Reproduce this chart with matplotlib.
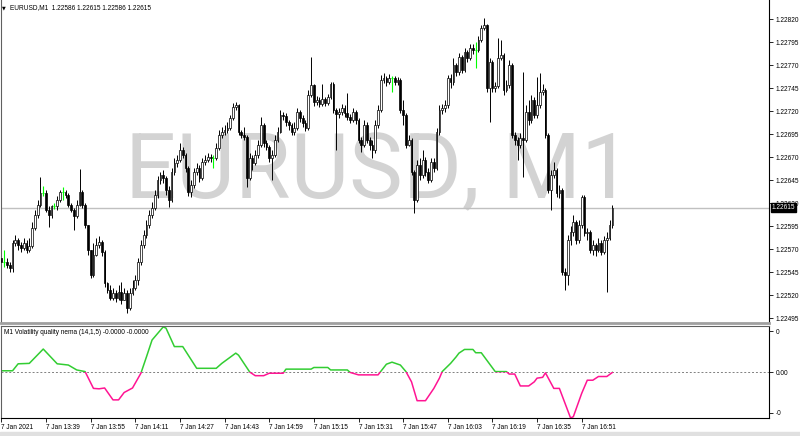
import numpy as np
import matplotlib
matplotlib.use('Agg')
import matplotlib.pyplot as plt
import matplotlib.patches as mpatches

plt.rcParams['font.family'] = ['Liberation Sans', 'DejaVu Sans']

# %% data (EURUSD M1, 7 Jan 2021)
symbol = 'EURUSD,M1'
header_ohlc = '1.22586 1.22615 1.22586 1.22615'
indicator_title = 'M1 Volatility quality nema (14,1,5) -0.0000 -0.0000'
last_price = 1.22615
first_open = 1.22560

closes = [
    1.22556, 1.22556, 1.22553, 1.22549, 1.22577, 1.22580, 1.22574, 1.22571, 1.22577, 1.22569,
    1.22573, 1.22593, 1.22607, 1.22618, 1.22631, 1.22631, 1.22612, 1.22607, 1.22617, 1.22617,
    1.22623, 1.22632, 1.22632, 1.22629, 1.22618, 1.22612, 1.22606, 1.22618, 1.22632, 1.22618,
    1.22596, 1.22569, 1.22542, 1.22563, 1.22574, 1.22578, 1.22567, 1.22533, 1.22525, 1.22517,
    1.22522, 1.22517, 1.22523, 1.22515, 1.22522, 1.22506, 1.22522, 1.22528, 1.22536, 1.22556,
    1.22574, 1.22585, 1.22596, 1.22607, 1.22615, 1.22629, 1.22645, 1.22650, 1.22647, 1.22634,
    1.22623, 1.22654, 1.22663, 1.22667, 1.22678, 1.22672, 1.22658, 1.22632, 1.22640, 1.22654,
    1.22658, 1.22647, 1.22665, 1.22667, 1.22670, 1.22669, 1.22669, 1.22680, 1.22694, 1.22697,
    1.22699, 1.22702, 1.22712, 1.22724, 1.22727, 1.22697, 1.22694, 1.22692, 1.22647, 1.22669,
    1.22663, 1.22672, 1.22683, 1.22705, 1.22685, 1.22681, 1.22669, 1.22672, 1.22688, 1.22697,
    1.22716, 1.22715, 1.22708, 1.22705, 1.22697, 1.22702, 1.22719, 1.22712, 1.22707, 1.22702,
    1.22737, 1.22748, 1.22730, 1.22732, 1.22728, 1.22733, 1.22729, 1.22735, 1.22749, 1.22721,
    1.22717, 1.22719, 1.22723, 1.22718, 1.22713, 1.22710, 1.22719, 1.22710, 1.22688, 1.22683,
    1.22705, 1.22688, 1.22683, 1.22678, 1.22705, 1.22721, 1.22754, 1.22756, 1.22752, 1.22756,
    1.22756, 1.22752, 1.22754, 1.22721, 1.22716, 1.22683, 1.22688, 1.22654, 1.22623, 1.22661,
    1.22650, 1.22667, 1.22654, 1.22645, 1.22665, 1.22658, 1.22697, 1.22721, 1.22723, 1.22727,
    1.22756, 1.22752, 1.22770, 1.22762, 1.22779, 1.22765, 1.22784, 1.22778, 1.22788, 1.22786,
    1.22786, 1.22797, 1.22810, 1.22813, 1.22745, 1.22773, 1.22745, 1.22747, 1.22778, 1.22781,
    1.22743, 1.22748, 1.22770, 1.22694, 1.22688, 1.22683, 1.22691, 1.22688, 1.22719, 1.22710,
    1.22732, 1.22716, 1.22727, 1.22741, 1.22743, 1.22694, 1.22634, 1.22650, 1.22656, 1.22631,
    1.22634, 1.22545, 1.22542, 1.22580, 1.22588, 1.22599, 1.22580, 1.22596, 1.22627, 1.22587,
    1.22588, 1.22569, 1.22574, 1.22569, 1.22577, 1.22567, 1.22580, 1.22582, 1.22596, 1.22615,
]

highs = [
    1.22563, 1.22569, 1.22560, 1.22556, 1.22580, 1.22585, 1.22582, 1.22578, 1.22582, 1.22580,
    1.22582, 1.22599, 1.22612, 1.22623, 1.22648, 1.22638, 1.22634, 1.22617, 1.22618, 1.22620,
    1.22628, 1.22634, 1.22637, 1.22634, 1.22631, 1.22620, 1.22615, 1.22623, 1.22657, 1.22634,
    1.22620, 1.22596, 1.22569, 1.22577, 1.22582, 1.22584, 1.22580, 1.22569, 1.22534, 1.22531,
    1.22528, 1.22525, 1.22531, 1.22534, 1.22528, 1.22525, 1.22528, 1.22536, 1.22542, 1.22560,
    1.22580, 1.22591, 1.22602, 1.22612, 1.22621, 1.22634, 1.22649, 1.22654, 1.22656, 1.22649,
    1.22638, 1.22658, 1.22669, 1.22672, 1.22685, 1.22681, 1.22674, 1.22660, 1.22645, 1.22658,
    1.22663, 1.22661, 1.22669, 1.22672, 1.22674, 1.22673, 1.22672, 1.22685, 1.22699, 1.22703,
    1.22705, 1.22708, 1.22716, 1.22729, 1.22730, 1.22728, 1.22699, 1.22703, 1.22694, 1.22674,
    1.22672, 1.22678, 1.22688, 1.22713, 1.22707, 1.22688, 1.22683, 1.22678, 1.22694, 1.22703,
    1.22721, 1.22719, 1.22718, 1.22710, 1.22707, 1.22708, 1.22723, 1.22721, 1.22716, 1.22710,
    1.22743, 1.22779, 1.22749, 1.22736, 1.22735, 1.22749, 1.22735, 1.22738, 1.22752, 1.22752,
    1.22723, 1.22723, 1.22728, 1.22727, 1.22740, 1.22717, 1.22723, 1.22721, 1.22712, 1.22692,
    1.22710, 1.22708, 1.22692, 1.22688, 1.22710, 1.22727, 1.22759, 1.22761, 1.22758, 1.22760,
    1.22758, 1.22758, 1.22757, 1.22756, 1.22732, 1.22718, 1.22694, 1.22691, 1.22656, 1.22667,
    1.22669, 1.22678, 1.22670, 1.22658, 1.22669, 1.22669, 1.22702, 1.22727, 1.22728, 1.22732,
    1.22759, 1.22760, 1.22778, 1.22772, 1.22783, 1.22781, 1.22788, 1.22786, 1.22793, 1.22793,
    1.22795, 1.22802, 1.22813, 1.22821, 1.22815, 1.22778, 1.22775, 1.22752, 1.22799, 1.22797,
    1.22783, 1.22754, 1.22775, 1.22772, 1.22697, 1.22692, 1.22696, 1.22762, 1.22727, 1.22732,
    1.22737, 1.22735, 1.22757, 1.22761, 1.22749, 1.22745, 1.22696, 1.22656, 1.22665, 1.22658,
    1.22640, 1.22636, 1.22549, 1.22585, 1.22595, 1.22607, 1.22602, 1.22602, 1.22629, 1.22629,
    1.22593, 1.22591, 1.22580, 1.22577, 1.22582, 1.22580, 1.22584, 1.22588, 1.22602, 1.22618,
]

lows = [
    1.22553, 1.22550, 1.22549, 1.22545, 1.22545, 1.22573, 1.22569, 1.22567, 1.22569, 1.22566,
    1.22567, 1.22571, 1.22591, 1.22604, 1.22616, 1.22628, 1.22610, 1.22594, 1.22604, 1.22613,
    1.22612, 1.22621, 1.22623, 1.22625, 1.22616, 1.22610, 1.22591, 1.22604, 1.22617, 1.22615,
    1.22593, 1.22563, 1.22538, 1.22540, 1.22562, 1.22571, 1.22562, 1.22529, 1.22522, 1.22515,
    1.22515, 1.22512, 1.22515, 1.22510, 1.22515, 1.22501, 1.22504, 1.22520, 1.22525, 1.22531,
    1.22553, 1.22571, 1.22582, 1.22593, 1.22604, 1.22612, 1.22625, 1.22641, 1.22642, 1.22629,
    1.22616, 1.22621, 1.22650, 1.22659, 1.22665, 1.22669, 1.22654, 1.22628, 1.22627, 1.22636,
    1.22650, 1.22643, 1.22645, 1.22661, 1.22665, 1.22665, 1.22658, 1.22667, 1.22678, 1.22691,
    1.22694, 1.22696, 1.22699, 1.22710, 1.22721, 1.22694, 1.22691, 1.22688, 1.22637, 1.22645,
    1.22656, 1.22661, 1.22669, 1.22681, 1.22681, 1.22678, 1.22665, 1.22645, 1.22670, 1.22686,
    1.22696, 1.22710, 1.22704, 1.22699, 1.22694, 1.22694, 1.22699, 1.22708, 1.22703, 1.22698,
    1.22699, 1.22735, 1.22725, 1.22727, 1.22724, 1.22725, 1.22725, 1.22727, 1.22733, 1.22718,
    1.22678, 1.22712, 1.22716, 1.22713, 1.22710, 1.22707, 1.22708, 1.22706, 1.22685, 1.22675,
    1.22681, 1.22685, 1.22678, 1.22669, 1.22674, 1.22702, 1.22719, 1.22750, 1.22747, 1.22749,
    1.22741, 1.22748, 1.22748, 1.22718, 1.22705, 1.22680, 1.22682, 1.22650, 1.22609, 1.22621,
    1.22645, 1.22647, 1.22649, 1.22642, 1.22643, 1.22654, 1.22656, 1.22694, 1.22717, 1.22719,
    1.22723, 1.22745, 1.22748, 1.22758, 1.22759, 1.22761, 1.22762, 1.22773, 1.22775, 1.22782,
    1.22767, 1.22784, 1.22795, 1.22808, 1.22741, 1.22708, 1.22741, 1.22741, 1.22745, 1.22775,
    1.22737, 1.22741, 1.22745, 1.22691, 1.22683, 1.22667, 1.22680, 1.22648, 1.22686, 1.22705,
    1.22707, 1.22712, 1.22712, 1.22723, 1.22737, 1.22691, 1.22631, 1.22612, 1.22647, 1.22627,
    1.22625, 1.22542, 1.22525, 1.22531, 1.22574, 1.22584, 1.22575, 1.22577, 1.22593, 1.22584,
    1.22580, 1.22566, 1.22563, 1.22562, 1.22567, 1.22563, 1.22565, 1.22523, 1.22580, 1.22593,
]

# volatility quality indicator, (bar, value) turning points
vq_bars = [0, 4, 6, 10, 15, 20, 24, 27, 30, 33, 35, 37, 40, 42, 44, 47, 50, 52, 54, 58,
           59, 62, 65, 70, 77, 79, 84, 85, 89, 91, 94, 96, 101, 102, 111, 112, 117, 118, 124, 125,
           128, 135, 138, 140, 143, 145, 147, 149, 152, 155, 157, 158, 161, 163, 164, 166, 169, 170, 172, 177,
           181, 182, 184, 186, 189, 191, 192, 194, 195, 198, 200, 204, 205, 208, 210, 212, 214, 217, 219]
vq_values = [0.03, 0.03, 0.20, 0.21, 0.56, 0.20, 0.17, 0.05, 0.01, -0.40, -0.41, -0.39, -0.68, -0.68, -0.50, -0.39, -0.03, 0.37, 0.78, 1.10,
             1.07, 0.62, 0.62, 0.09, 0.09, 0.21, 0.46, 0.41, 0.0, -0.09, -0.09, -0.03, -0.03, 0.07, 0.07, 0.11, 0.11, 0.05, 0.05, -0.01,
             -0.07, -0.07, 0.19, 0.24, 0.17, 0.01, -0.24, -0.70, -0.70, -0.40, -0.15, 0.01, 0.21, 0.37, 0.46, 0.55, 0.55, 0.47, 0.47, 0.01,
             0.01, -0.05, -0.05, -0.34, -0.34, -0.24, -0.15, -0.13, -0.02, -0.40, -0.40, -1.12, -1.09, -0.52, -0.20, -0.20, -0.11, -0.11, -0.01]

time_tick_bars = [0, 16, 32, 48, 64, 80, 96, 112, 128, 144, 160, 176, 192, 208]
time_tick_labels = ['7 Jan 2021', '7 Jan 13:39', '7 Jan 13:55', '7 Jan 14:11', '7 Jan 14:27',
                    '7 Jan 14:43', '7 Jan 14:59', '7 Jan 15:15', '7 Jan 15:31', '7 Jan 15:47',
                    '7 Jan 16:03', '7 Jan 16:19', '7 Jan 16:35', '7 Jan 16:51']
price_ticks = [1.22495, 1.22520, 1.22545, 1.22570, 1.22595, 1.22620, 1.22645,
               1.22670, 1.22695, 1.22720, 1.22745, 1.22770, 1.22795, 1.22820]
vq_ticks = [-1, 0, 1]
vq_tick_labels = ['-0', '0.00', '0']

# %% figure
W, H = 800, 436
fig = plt.figure(figsize=(W / 100, H / 100), dpi=100)
fs = 4.7

ax = fig.add_axes([1 / W, (H - 323) / H, 768 / W, 323 / H])
ax2 = fig.add_axes([1 / W, (H - 418) / H, 768 / W, 92 / H])

opens = [first_open] + closes[:-1]
x = np.arange(len(closes))
o = np.array(opens)
c = np.array(closes)
hi = np.array(highs)
lo = np.array(lows)
doji = o == c
bull = (c > o)
bear = (c < o)

# watermark (symbol, timeframe)
ax.text(125 / W, (H - 198) / H, 'EURUSD, M1', transform=fig.transFigure,
        fontsize=65, color='#d3d3d3', ha='left', va='baseline', zorder=0.5,
        family=['Roboto', 'Liberation Sans'])

ax.axhline(last_price, color='#c0c0c0', lw=1, zorder=1)

# candles
ax.vlines(x[~doji], lo[~doji], hi[~doji], color='black', lw=0.7, zorder=2)
ax.bar(x[bull], (c - o)[bull], bottom=o[bull], width=0.62, color='white',
       edgecolor='black', linewidth=0.5, zorder=3)
ax.bar(x[bear], (c - o)[bear], bottom=o[bear], width=0.62, color='black',
       edgecolor='black', linewidth=0.5, zorder=3)
ax.vlines(x[doji], lo[doji], hi[doji], color='#00ff00', lw=0.8, zorder=3)
ax.hlines(c[doji], x[doji] - 0.35, x[doji] + 0.35, color='#00ff00', lw=0.8, zorder=3)

xmin, xmax = -0.14, 275.13
ax.set_xlim(xmin, xmax)
ax.set_ylim(1.224896, 1.228407)
ax.set_xticks([])
ax.yaxis.tick_right()
ax.set_yticks(price_ticks)
ax.set_yticklabels(['%.5f' % p for p in price_ticks])
ax.tick_params(axis='y', length=3, width=0.6, pad=2, labelsize=fs)
ax.spines['top'].set_visible(False)
ax.spines['left'].set_color('#606060')
ax.spines['right'].set_color('black')
ax.spines['right'].set_linewidth(0.8)
ax.spines['bottom'].set_color('#a0a0a0')
ax.spines['bottom'].set_linewidth(2)

# current price label (covers the 1.22620 tick label, as in MT4)
ax.annotate('%.5f' % last_price, xy=(1, last_price), xycoords=('axes fraction', 'data'),
            xytext=(3, 0), textcoords='offset pixels', fontsize=fs, color='white',
            ha='left', va='center', zorder=10, annotation_clip=False,
            bbox=dict(boxstyle='square,pad=0.15', fc='black', ec='black'))

# header
fig.text(2 / W, 1 - 8 / H, '\u25bc', fontsize=3.5, va='center', ha='left', family='DejaVu Sans')
fig.text(10 / W, 1 - 8 / H, symbol + '  ' + header_ohlc, fontsize=fs, va='center', ha='left')

# %% indicator window
vx = np.array(vq_bars)
vy = np.array(vq_values)
ax2.axhline(0, color='#808080', lw=0.7, ls=(0, (2, 2)), zorder=1)
g, = ax2.plot(vx, vy, color='#32cd32', lw=1.1, zorder=2)
p, = ax2.plot(vx, vy, color='#ff1493', lw=1.1, zorder=2)
# green above zero, pink below
up = mpatches.Rectangle((xmin, 0), xmax - xmin, 5, transform=ax2.transData)
dn = mpatches.Rectangle((xmin, -5), xmax - xmin, 5, transform=ax2.transData)
g.set_clip_path(up)
p.set_clip_path(dn)

ax2.set_xlim(xmin, xmax)
ax2.set_ylim(-1.122, 1.122)
ax2.yaxis.tick_right()
ax2.set_yticks(vq_ticks)
ax2.set_yticklabels(vq_tick_labels)
ax2.set_xticks(time_tick_bars)
ax2.set_xticklabels(time_tick_labels)
for lbl in ax2.get_xticklabels():
    lbl.set_ha('left')
ax2.tick_params(axis='both', length=3, width=0.6, pad=1.5, labelsize=fs)
ax2.tick_params(axis='y', pad=2)
for s in ['left', 'top']:
    ax2.spines[s].set_color('#606060')
ax2.spines['right'].set_linewidth(0.8)
ax2.spines['bottom'].set_linewidth(0.8)
ax2.text(3 / 768, 1 - 7 / 92, indicator_title, transform=ax2.transAxes,
         fontsize=fs, va='center', ha='left')

# bottom tab strip
fig.patches.append(mpatches.Rectangle((0, 0), 1, 4 / H, transform=fig.transFigure,
                                      color='#e0e0e0', zorder=0))

fig.savefig('out.png', dpi=100)
